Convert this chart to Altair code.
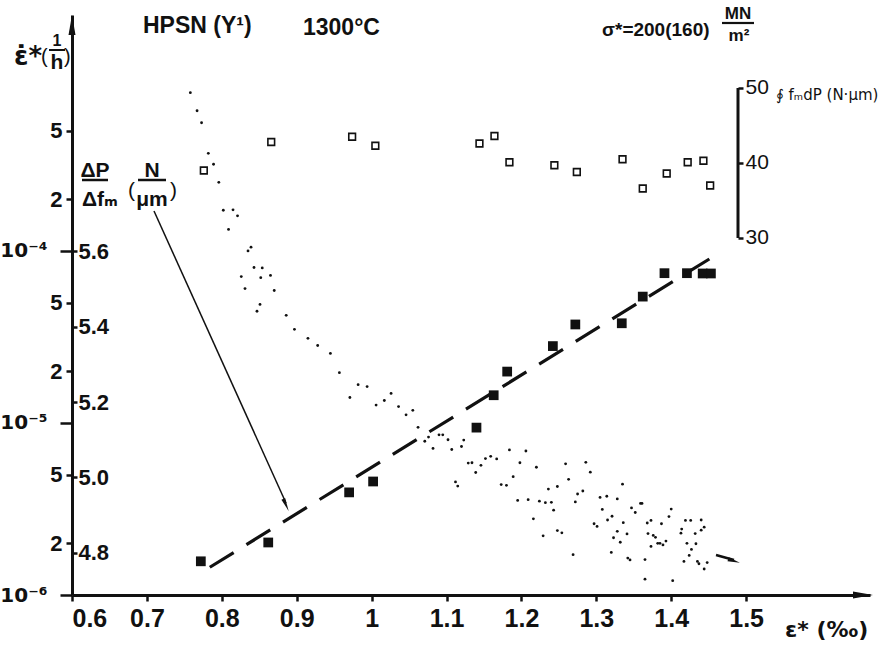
import altair as alt
import pandas as pd

# ---------------- data ----------------
# creep rate (filled squares), log scale, 1/h
rate_strain = [0.772, 0.862, 0.970, 1.002, 1.140, 1.163, 1.181, 1.242, 1.272, 1.334,
               1.362, 1.391, 1.421, 1.442, 1.453]
rate_value = [1.57e-6, 2.02e-6, 3.95e-6, 4.57e-6, 9.4e-6, 1.45e-5, 1.99e-5, 2.80e-5, 3.74e-5, 3.80e-5,
              5.43e-5, 7.43e-5, 7.43e-5, 7.4e-5, 7.4e-5]
# dashed fit line end points
fit_strain = [0.784, 1.465]
fit_rate = [1.45e-6, 9.8e-5]
# loop integral (open squares), N*um
loop_strain = [0.776, 0.866, 0.974, 1.005, 1.144, 1.164, 1.184, 1.244, 1.274, 1.335,
               1.362, 1.394, 1.422, 1.443, 1.452]
loop_value = [39.0, 42.8, 43.5, 42.3, 42.6, 43.6, 40.1, 39.7, 38.8, 40.5,
              36.6, 38.6, 40.1, 40.3, 37.0]
loop_axis_span = [30, 50]
# dP/dfm (small dots), N/um
dot_strain = [0.758, 0.767, 0.773, 0.782, 0.789, 0.796, 0.802, 0.815, 0.821, 0.809,
              0.835, 0.839, 0.843, 0.854, 0.826, 0.852, 0.865, 0.831, 0.870, 0.851,
              0.847, 0.886, 0.897, 0.915, 0.928, 0.945, 0.957, 0.982, 0.994, 0.971,
              1.026, 1.017, 1.006, 1.036, 1.055, 1.046, 1.062, 1.076, 1.071, 1.090,
              1.095, 1.102, 1.123, 1.082, 1.107, 1.120, 1.129, 1.134, 1.139, 1.146,
              1.152, 1.159, 1.167, 1.184, 1.206, 1.198, 1.189, 1.220, 1.112, 1.115,
              1.173, 1.180, 1.195, 1.209, 1.216, 1.224, 1.232, 1.240, 1.243, 1.229,
              1.236, 1.248, 1.248, 1.254, 1.259, 1.263, 1.272, 1.275, 1.282, 1.286,
              1.292, 1.269, 1.305, 1.314, 1.308, 1.321, 1.315, 1.328, 1.335, 1.297,
              1.301, 1.328, 1.336, 1.341, 1.323, 1.332, 1.320, 1.342, 1.345, 1.347,
              1.352, 1.359, 1.361, 1.365, 1.365, 1.402, 1.368, 1.373, 1.387, 1.397,
              1.400, 1.369, 1.376, 1.379, 1.373, 1.382, 1.385, 1.389, 1.393, 1.413,
              1.414, 1.419, 1.426, 1.440, 1.444, 1.440, 1.432, 1.421, 1.433, 1.427,
              1.424, 1.417, 1.435, 1.437, 1.448, 1.444]
dot_value = [6.021, 5.973, 5.941, 5.860, 5.831, 5.783, 5.709, 5.710, 5.694, 5.658,
             5.601, 5.611, 5.557, 5.556, 5.533, 5.530, 5.536, 5.501, 5.496, 5.459,
             5.441, 5.430, 5.393, 5.369, 5.350, 5.329, 5.278, 5.246, 5.241, 5.212,
             5.223, 5.204, 5.192, 5.188, 5.178, 5.166, 5.133, 5.107, 5.096, 5.113,
             5.113, 5.100, 5.099, 5.077, 5.074, 5.082, 5.038, 5.039, 5.013, 5.032,
             5.050, 5.056, 5.049, 5.073, 5.070, 5.039, 5.002, 5.027, 4.988, 4.977,
             4.981, 4.979, 4.939, 4.941, 4.890, 4.937, 4.933, 4.934, 4.913, 4.845,
             4.969, 4.976, 4.859, 4.853, 5.036, 4.995, 4.935, 4.956, 4.964, 5.040,
             5.014, 4.795, 4.947, 4.950, 4.915, 4.897, 4.887, 4.943, 4.982, 4.877,
             4.870, 4.857, 4.880, 4.850, 4.840, 4.828, 4.801, 4.786, 4.781, 4.919,
             4.907, 4.931, 4.931, 4.782, 4.730, 4.726, 4.879, 4.886, 4.877, 4.896,
             4.916, 4.851, 4.846, 4.841, 4.817, 4.825, 4.825, 4.821, 4.831, 4.852,
             4.863, 4.886, 4.886, 4.887, 4.868, 4.860, 4.851, 4.825, 4.824, 4.809,
             4.793, 4.777, 4.777, 4.771, 4.774, 4.757]

x_ticks = [0.6, 0.7, 0.8, 0.9, 1.0, 1.1, 1.2, 1.3, 1.4, 1.5]
rate_ticks = [1e-6, 2e-6, 5e-6, 1e-5, 2e-5, 5e-5, 1e-4, 2e-4, 5e-4]
dot_ticks = [4.8, 5.0, 5.2, 5.4, 5.6]
loop_ticks = [30, 40, 50]

# ---------------- layout / style ----------------
W, H = 798, 580
X_DOM = [0.6, 1.6654]
RATE_DOM = [1e-6, 2.355e-3]
DOT_DOM = [4.688, 6.227]
LOOP_DOM = [-17.6, 59.73]
FONT = "Liberation Sans, Arial, DejaVu Sans"
SYM = "DejaVu Sans"
INK = "#111111"

xs = alt.Scale(domain=X_DOM, nice=False, zero=False)
x_axis = alt.Axis(values=x_ticks, format=".1~f", title=None, grid=False,
                  domainWidth=3, domainColor=INK, tickSize=6, tickWidth=2.5, tickColor=INK,
                  labelFont=FONT, labelFontSize=25, labelColor=INK, labelPadding=5,
                  labelFontWeight="bold")
rate_scale = alt.Scale(type="log", domain=RATE_DOM, nice=False)
dot_scale = alt.Scale(domain=DOT_DOM, nice=False, zero=False)
loop_scale = alt.Scale(domain=LOOP_DOM, nice=False, zero=False)

decade_test = "datum.value == 1e-6 || datum.value == 1e-5 || datum.value == 1e-4"
rate_axis = alt.Axis(
    orient="left", values=rate_ticks, title=None, grid=False,
    labelExpr=("datum.value == 1e-6 ? '10\u207b\u2076' : datum.value == 1e-5 ? '10\u207b\u2075' : "
               "datum.value == 1e-4 ? '10\u207b\u2074' : "
               "format(datum.value / pow(10, floor(log(datum.value) / LN10 + 1e-9)), '.0f')"),
    domainWidth=3, domainColor=INK, tickWidth=2.5, tickColor=INK,
    tickSize={"condition": {"test": decade_test, "value": 12}, "value": 6},
    labelPadding={"condition": {"test": decade_test, "value": 13}, "value": 4},
    labelFont={"condition": {"test": decade_test, "value": SYM}, "value": FONT},
    labelFontSize={"condition": {"test": decade_test, "value": 20}, "value": 22},
    labelFontWeight="bold",
    labelColor=INK)
dot_axis = alt.Axis(orient="right", offset=-W, values=dot_ticks, format=".1f", title=None,
                    grid=False, domain=False, tickSize=5, tickWidth=2.5, tickColor=INK,
                    labelFont=FONT, labelFontSize=22, labelColor=INK, labelPadding=1,
                    labelFontWeight="bold")
loop_axis = alt.Axis(orient="right", offset=-132, values=loop_ticks, format="d", title=None,
                     grid=False, domain=False, tickSize=5, tickWidth=2.5, tickColor=INK,
                     labelFont=FONT, labelFontSize=21, labelColor=INK, labelPadding=2)

df_rate = pd.DataFrame({"strain": rate_strain, "rate": rate_value})
df_fit = pd.DataFrame({"strain": fit_strain, "rate": fit_rate})
df_loop = pd.DataFrame({"strain": loop_strain, "loop": loop_value})
df_dot = pd.DataFrame({"strain": dot_strain, "dp": dot_value})
df_span = pd.DataFrame({"lo": [loop_axis_span[0]], "hi": [loop_axis_span[1]]})

filled = alt.Chart(df_rate).mark_square(size=95, color=INK, opacity=1).encode(
    x=alt.X("strain:Q", scale=xs, axis=x_axis),
    y=alt.Y("rate:Q", scale=rate_scale, axis=rate_axis))
fit = alt.Chart(df_fit).mark_line(color=INK, strokeWidth=3.2, strokeDash=[28, 15]).encode(
    x=alt.X("strain:Q", scale=xs, axis=x_axis),
    y=alt.Y("rate:Q", scale=rate_scale, axis=None))
dots = alt.Chart(df_dot).mark_circle(size=8, color=INK, opacity=1).encode(
    x=alt.X("strain:Q", scale=xs, axis=x_axis),
    y=alt.Y("dp:Q", scale=dot_scale, axis=dot_axis))
opens = alt.Chart(df_loop).mark_square(size=45, filled=False, color=INK, strokeWidth=1.6, opacity=1).encode(
    x=alt.X("strain:Q", scale=xs, axis=x_axis),
    y=alt.Y("loop:Q", scale=loop_scale, axis=loop_axis))
span = alt.Chart(df_span).mark_rule(color=INK, strokeWidth=3).encode(
    x=alt.value(666),
    y=alt.Y("lo:Q", scale=loop_scale, axis=None), y2="hi:Q")


def txt(s, x, y, size=22, align="left", weight="bold", font=FONT):
    return alt.Chart(pd.DataFrame({"t": [s]})).mark_text(
        font=font, fontSize=size, fontWeight=weight, color=INK, align=align, baseline="alphabetic"
    ).encode(text="t:N", x=alt.value(x), y=alt.value(y))


def seg(x1, y1, x2, y2, w=2.5):
    return alt.Chart(pd.DataFrame({"a": [0]})).mark_rule(color=INK, strokeWidth=w).encode(
        x=alt.value(x1), y=alt.value(y1), x2=alt.value(x2), y2=alt.value(y2))


def head(path, x, y, size, angle=0):
    return alt.Chart(pd.DataFrame({"a": [0]})).mark_point(
        shape=path, filled=True, color=INK, opacity=1, size=size, angle=angle, strokeWidth=0
    ).encode(x=alt.value(x), y=alt.value(y))


UP = "M0,-1L0.35,1L-0.35,1Z"
RIGHT = "M1,0L-1,-0.35L-1,0.35Z"

notes = [
    # y axis title  eps-dot* (1/h)
    txt("\u03b5\u0307*", -58, 50, 26, font=SYM),
    txt("(", -31, 48, 20, weight="normal"),
    txt("1", -15, 31, 16, align="center"),
    seg(-23, 35, -7, 35, 2),
    txt("h", -15, 54, 21, align="center"),
    txt(")", -8, 48, 20, weight="normal"),
    # header
    txt("HPSN (Y\u00b9)", 71, 18, 23),
    txt("1300\u00b0C", 231, 20, 23),
    txt("\u03c3*=200(160)", 530, 21, 19),
    txt("MN", 666, 4, 17, align="center"),
    seg(650, 8, 682, 8, 2.2),
    txt("m\u00b2", 667, 26, 17, align="center"),
    txt("\u222e f\u2098dP (N\u00b7\u03bcm)", 704, 85, 15, weight="normal", font=SYM),
    # dP/dfm label
    txt("\u0394P", 23, 162, 21, align="center"),
    seg(10, 165, 36, 165, 2.5),
    txt("\u0394f\u2098", 10, 191, 21),
    txt("(", 56, 182, 21, weight="normal"),
    txt("N", 80, 162, 21, align="center"),
    seg(66, 165, 94, 165, 2.5),
    txt("\u03bcm", 80, 191, 21, align="center"),
    txt(")", 98, 182, 21, weight="normal"),
    # x axis title
    txt("\u03b5* (\u2030)", 713, 622, 22, font=SYM),
    # pointer arrow from label to the fitted line
    seg(82, 196, 214, 488, 1.5),
    head("M0,1L-0.3,-1L0.3,-1Z", 214, 490, 180, angle=336),
    # small arrow lower right
    seg(644, 540, 662, 545, 2.5),
    head(RIGHT, 662, 546, 150, angle=16),
    # axis arrow heads
    head(UP, 0, 10, 400),
    head(RIGHT, 791, 580, 400),
]

chart = alt.layer(filled, fit, dots, opens, span, *notes).resolve_scale(
    y="independent"
).properties(
    width=W, height=H,
    autosize=alt.AutoSizeParams(type="none"),
    padding={"left": 72, "top": 15, "right": 19, "bottom": 50},
    background="white",
).configure_view(stroke=None)

chart.save("out.html", embed_options={"renderer": "svg", "actions": False})
